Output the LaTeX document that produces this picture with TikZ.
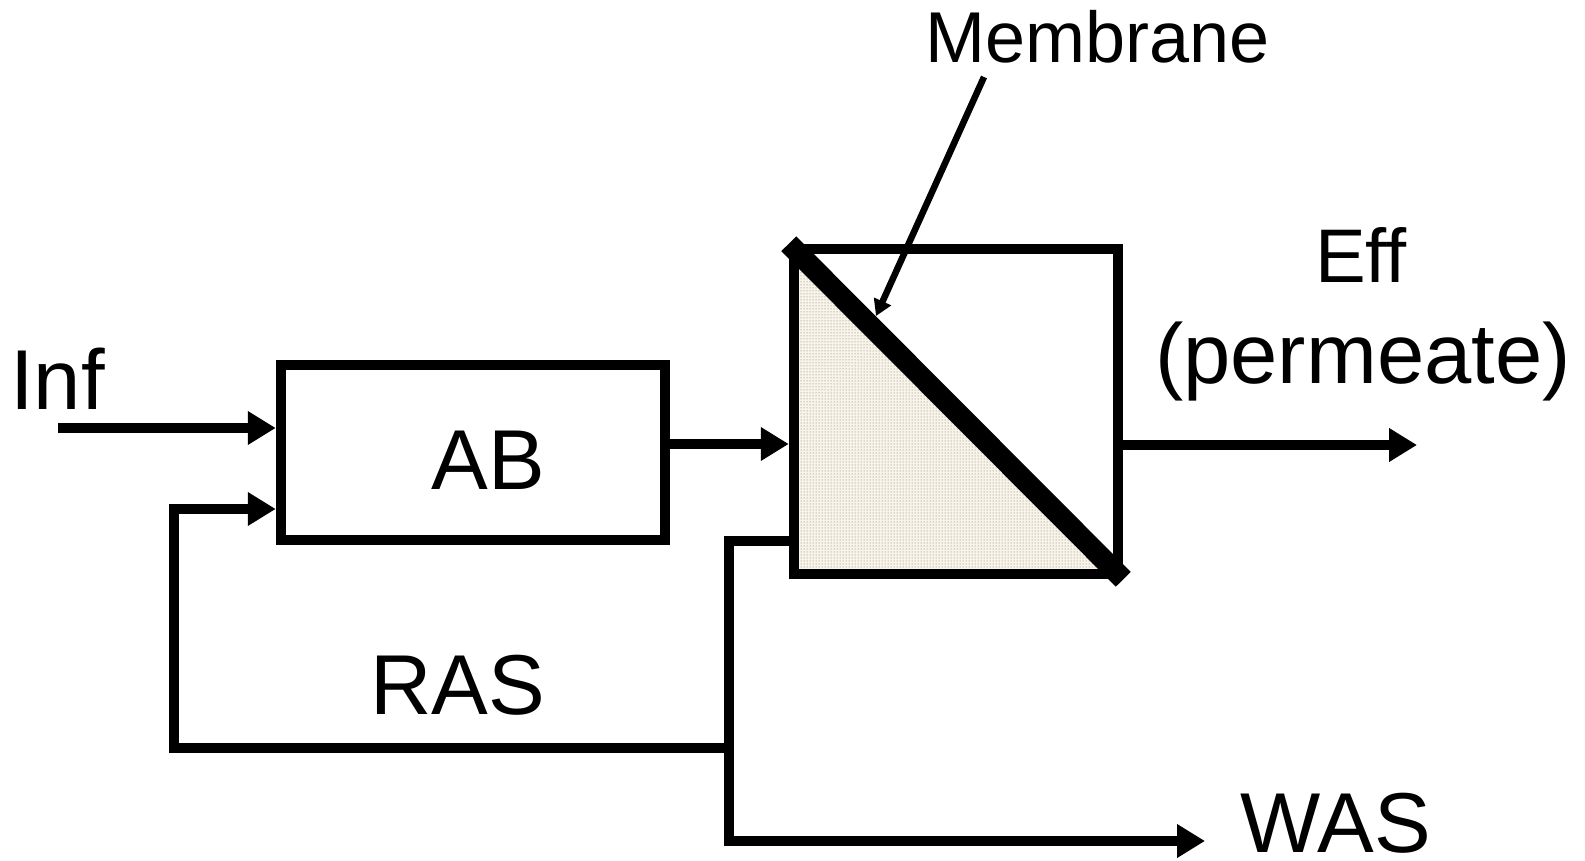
\documentclass[tikz,border=0pt]{standalone}
\usepackage{fontspec}
\setmainfont{Liberation Sans}
\usetikzlibrary{arrows.meta,patterns}
\definecolor{membfill}{RGB}{248,244,234}
\definecolor{dotcol}{RGB}{120,112,105}
\begin{document}
\begin{tikzpicture}[x=1pt,y=-1pt,
  line/.style={line width=10.5pt, line join=miter},
  arr/.style={line, -{Triangle[length=28pt,width=32pt]}},
  box/.style={draw, line width=10.5pt, inner sep=0pt, outer sep=5.25pt},
  lbl/.style={inner sep=0pt, anchor=base, font=\fontsize{85}{100}\selectfont},
  smalllbl/.style={inner sep=0pt, anchor=base, font=\fontsize{72}{86}\selectfont}
]
\useasboundingbox (0,0) rectangle (1585,861);

% membrane fill
\fill[membfill] (794,249) -- (794,574) -- (1118,574) -- cycle;
\fill[pattern=dots, pattern color=dotcol] (794,249) -- (794,574) -- (1118,574) -- cycle;

% boxes
\node[box, minimum width=384pt, minimum height=175pt] (AB) at (473,452.5) {};
\node[box, minimum width=324pt, minimum height=325pt] (MEM) at (956,411.5) {};
\draw[line width=21pt] (MEM.north west) -- (MEM.south east);

% labels
\node[lbl, anchor=base west] (inf) at (10,409) {Inf};
\node[lbl] (ABt) at (488,489) {AB};
\node[lbl] (ras) at (458,714) {RAS};
\node[lbl] (was) at (1336,852) {WAS};
\node[smalllbl] (memlbl) at (1098,63) {Membrane};
\node[inner sep=0pt, anchor=base, font=\fontsize{76}{90}\selectfont] (eff) at (1361,282) {Eff};
\node[lbl] (perm) at (1363,383) {(permeate)};

% coordinates
\coordinate (inf0) at (58,428);
\coordinate (rasA) at (174,748);
\coordinate (rasB) at (174,509);
\coordinate (jn) at (729,748);
\coordinate (y444) at (0,444);
\coordinate (y445) at (0,445);
\coordinate (effend) at (1417,445);
\coordinate (r1) at (729,541);
\coordinate (wasend) at (1205,841);
\coordinate (mstart) at (984,77);
\coordinate (mtip) at (876,316);

% connectors
\draw[arr] (inf0) -- (inf0 -| AB.west);
\draw[arr] (jn) -- (rasA) -- (rasB) -- (rasB -| AB.west);
\draw[arr] (AB.east |- y444) -- (MEM.west |- y444);
\draw[arr] (MEM.east |- y445) -- (effend);
\draw[arr] (MEM.west |- r1) -- (r1) -- (r1 |- wasend) -- (wasend);
\draw[line width=6.5pt, -{Triangle[length=16pt,width=18pt]}] (mstart) -- (mtip);
\end{tikzpicture}
\end{document}
